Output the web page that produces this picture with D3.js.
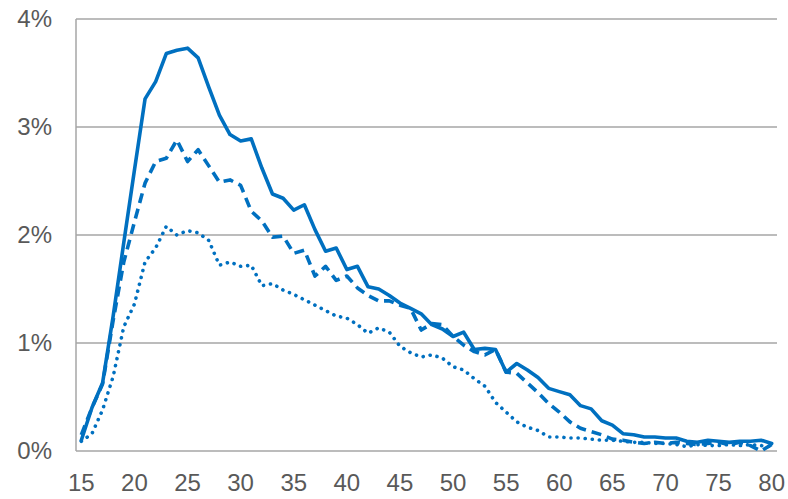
<!DOCTYPE html>
<html>
<head>
<meta charset="utf-8">
<script src="https://cdn.jsdelivr.net/npm/d3@7/dist/d3.min.js"></script>
<style>
  html, body { margin: 0; padding: 0; background: #fff; }
  svg { display: block; }
  text { font-family: "Liberation Sans", Arial, sans-serif; fill: #595959; }
</style>
</head>
<body>
<svg id="chart" width="788" height="499"></svg>
<script>
const ages = d3.range(15, 81);
const xTickLabels = [15, 20, 25, 30, 35, 40, 45, 50, 55, 60, 65, 70, 75, 80];
const yTicks = [0, 1, 2, 3, 4];

// percent values, ages 15..80
const solidValues = [
  0.10, 0.40, 0.63, 1.25, 1.93, 2.60, 3.26, 3.42, 3.68, 3.71,
  3.73, 3.64, 3.37, 3.11, 2.93, 2.87, 2.89, 2.62, 2.38, 2.34,
  2.23, 2.28, 2.05, 1.85, 1.88, 1.68, 1.71, 1.52, 1.50, 1.44,
  1.37, 1.32, 1.27, 1.17, 1.13, 1.06, 1.10, 0.94, 0.95, 0.94,
  0.73, 0.81, 0.75, 0.68, 0.58, 0.55, 0.52, 0.42, 0.39, 0.28,
  0.24, 0.16, 0.15, 0.13, 0.13, 0.12, 0.12, 0.09, 0.08, 0.10,
  0.09, 0.08, 0.09, 0.09, 0.10, 0.07
];
const dashedValues = [
  0.15, 0.40, 0.62, 1.21, 1.75, 2.12, 2.48, 2.68, 2.71, 2.88,
  2.68, 2.79, 2.64, 2.49, 2.51, 2.46, 2.22, 2.13, 1.98, 1.99,
  1.83, 1.86, 1.62, 1.71, 1.58, 1.62, 1.51, 1.44, 1.39, 1.39,
  1.35, 1.32, 1.12, 1.18, 1.17, 1.06, 0.98, 0.92, 0.89, 0.94,
  0.73, 0.72, 0.63, 0.54, 0.44, 0.36, 0.27, 0.21, 0.18, 0.15,
  0.11, 0.10, 0.08, 0.07, 0.08, 0.07, 0.08, 0.07, 0.06, 0.07,
  0.08, 0.06, 0.08, 0.05, 0.00, 0.06
];
const dottedValues = [
  0.09, 0.16, 0.38, 0.69, 1.15, 1.36, 1.75, 1.88, 2.08, 2.00,
  2.04, 2.02, 1.95, 1.72, 1.75, 1.71, 1.72, 1.53, 1.55, 1.49,
  1.45, 1.40, 1.35, 1.30, 1.25, 1.23, 1.17, 1.09, 1.14, 1.10,
  0.97, 0.91, 0.87, 0.89, 0.86, 0.78, 0.75, 0.67, 0.60, 0.45,
  0.36, 0.27, 0.22, 0.19, 0.13, 0.13, 0.12, 0.12, 0.11, 0.10,
  0.10, 0.09, 0.08, 0.08, 0.07, 0.07, 0.06, 0.04, 0.06, 0.05,
  0.05, 0.06, 0.05, 0.06, 0.05, 0.04
];

const series = [
  { values: solidValues, dash: null, cap: "round" },
  { values: dashedValues, dash: "10,6", cap: "butt" },
  { values: dottedValues, dash: "0.1,7", cap: "round" }
];

const margin = { left: 76, right: 11, top: 19, bottom: 48 };
const W = 788, H = 499;
const color = "#0070c0";
const gridColor = "#a6a6a6";

const svg = d3.select("#chart");

const x = d3.scaleBand()
  .domain(ages)
  .range([margin.left, W - margin.right])
  .paddingInner(0).paddingOuter(0);
const xc = a => x(a) + x.bandwidth() / 2;

const y = d3.scaleLinear()
  .domain([0, 4])
  .range([H - margin.bottom, margin.top]);

// gridlines
svg.append("g").selectAll("line")
  .data(yTicks)
  .join("line")
  .attr("x1", margin.left).attr("x2", W - margin.right)
  .attr("y1", d => y(d)).attr("y2", d => y(d))
  .attr("stroke", gridColor).attr("stroke-width", 1.5);

// left axis line
svg.append("line")
  .attr("x1", margin.left).attr("x2", margin.left)
  .attr("y1", y(4)).attr("y2", y(0))
  .attr("stroke", gridColor).attr("stroke-width", 1.5);

// y labels
svg.append("g").selectAll("text")
  .data(yTicks)
  .join("text")
  .attr("x", 52)
  .attr("y", d => y(d))
  .attr("dy", "0.35em")
  .attr("text-anchor", "end")
  .style("font-size", "24px")
  .text(d => d + "%");

// x labels
svg.append("g").selectAll("text")
  .data(xTickLabels)
  .join("text")
  .attr("x", d => xc(d))
  .attr("y", 491)
  .attr("text-anchor", "middle")
  .style("font-size", "24px")
  .text(d => d);

const line = d3.line()
  .x((d, i) => xc(ages[i]))
  .y(d => y(d));

series.forEach(s => {
  svg.append("path")
    .datum(s.values)
    .attr("d", line)
    .attr("fill", "none")
    .attr("stroke", color)
    .attr("stroke-width", 3.6)
    .attr("stroke-linejoin", "round")
    .attr("stroke-linecap", s.cap)
    .attr("stroke-dasharray", s.dash);
});
</script>
</body>
</html>
